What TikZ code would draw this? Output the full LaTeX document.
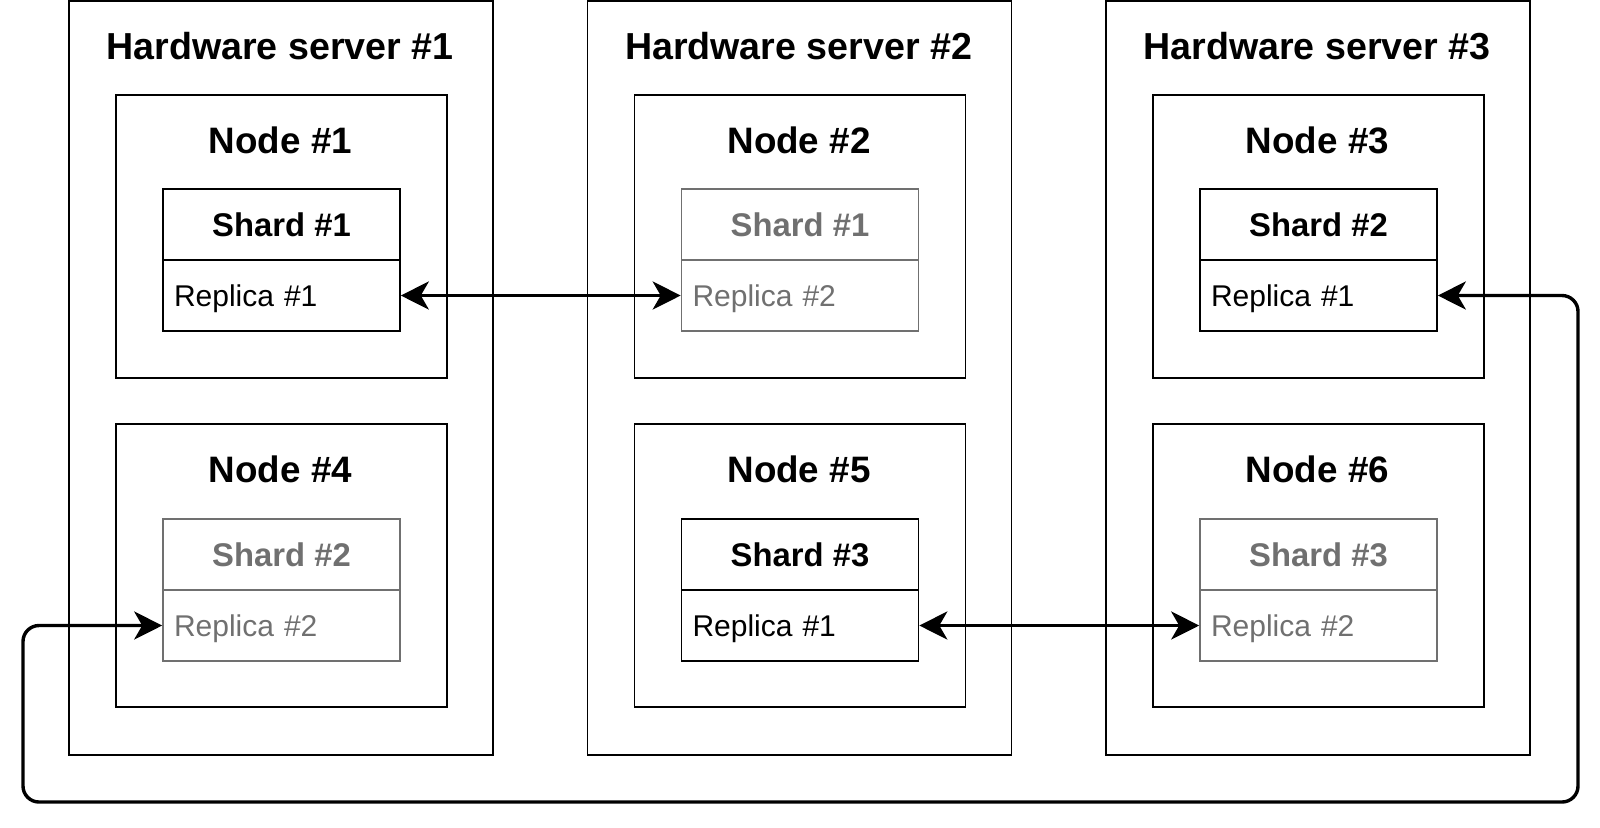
\documentclass[tikz,border=0pt]{standalone}
\usepackage{fontspec}
\setmainfont{Liberation Sans}
\usetikzlibrary{arrows.meta}
\definecolor{faded}{RGB}{112,112,112}
\tikzset{
  hwbox/.style={draw, line width=0.8pt, minimum width=212pt, minimum height=377pt, inner sep=0pt},
  nodebox/.style={draw, line width=0.8pt, minimum width=165.5pt, minimum height=141.5pt, inner sep=0pt},
  hwtitle/.style={anchor=base, inner sep=0pt, font=\fontsize{18.8}{22}\selectfont\bfseries},
  nodetitle/.style={anchor=base, inner sep=0pt, font=\fontsize{18.4}{22}\selectfont\bfseries},
  shardhead/.style={draw, line width=0.8pt, minimum width=118.5pt, minimum height=35.5pt, inner sep=0pt,
    text height=11.9pt, text depth=0pt, font=\fontsize{16.4}{19}\selectfont\bfseries},
  replicarow/.style={draw, line width=0.8pt, text width=107.5pt, inner xsep=5.5pt, inner ysep=0pt, minimum height=35.5pt,
    text height=10.8pt, text depth=0pt, align=left, font=\fontsize{15}{17}\selectfont},
  dimmed/.style={draw=faded, text=faded},
  sync/.style={line width=1.7pt, rounded corners=8pt, {Stealth[length=14pt,width=14pt,inset=4pt]}-{Stealth[length=14pt,width=14pt,inset=4pt]}}
}
\begin{document}
\begin{tikzpicture}[x=0.5pt,y=0.5pt]
\useasboundingbox (0,0) rectangle (1600,-827);
% hardware servers
\node [hwbox] (s1) at (281,-378) {};
\node [hwbox] (s2) at (799.5,-378) {};
\node [hwbox] (s3) at (1318,-378) {};
\node [hwtitle] (t1) at (280,-59) {Hardware server \#1};
\node [hwtitle] (t2) at (798.5,-59) {Hardware server \#2};
\node [hwtitle] (t3) at (1317,-59) {Hardware server \#3};
% nodes
\node [nodebox] (n1) at (281.5,-236.5) {};
\node [nodebox] (n2) at (800,-236.5) {};
\node [nodebox] (n3) at (1318.5,-236.5) {};
\node [nodebox] (n4) at (281.5,-565.5) {};
\node [nodebox] (n5) at (800,-565.5) {};
\node [nodebox] (n6) at (1318.5,-565.5) {};
\node [nodetitle] (l1) at (280.5,-153) {Node \#1};
\node [nodetitle] (l2) at (799,-153) {Node \#2};
\node [nodetitle] (l3) at (1317.5,-153) {Node \#3};
\node [nodetitle] (l4) at (280.5,-482) {Node \#4};
\node [nodetitle] (l5) at (799,-482) {Node \#5};
\node [nodetitle] (l6) at (1317.5,-482) {Node \#6};
% shards
\node [shardhead] (h1) at (281.5,-224.5) {Shard \#1};
\node [replicarow] (r1) at (281.5,-295.5) {Replica \#1};
\node [shardhead,dimmed] (h2) at (800,-224.5) {Shard \#1};
\node [replicarow,dimmed] (r2) at (800,-295.5) {Replica \#2};
\node [shardhead] (h3) at (1318.5,-224.5) {Shard \#2};
\node [replicarow] (r3) at (1318.5,-295.5) {Replica \#1};
\node [shardhead,dimmed] (h4) at (281.5,-554.5) {Shard \#2};
\node [replicarow,dimmed] (r4) at (281.5,-625.5) {Replica \#2};
\node [shardhead] (h5) at (800,-554.5) {Shard \#3};
\node [replicarow] (r5) at (800,-625.5) {Replica \#1};
\node [shardhead,dimmed] (h6) at (1318.5,-554.5) {Shard \#3};
\node [replicarow,dimmed] (r6) at (1318.5,-625.5) {Replica \#2};
% replication links
\coordinate (loopse) at (1578,-802);
\coordinate (loopsw) at (23,-802);
\draw [sync] (r1.east) -- (r2.west);
\draw [sync] (r5.east) -- (r6.west);
\draw [sync] (r3.east) -| (loopse) -- (loopsw) |- (r4.west);
\end{tikzpicture}
\end{document}
